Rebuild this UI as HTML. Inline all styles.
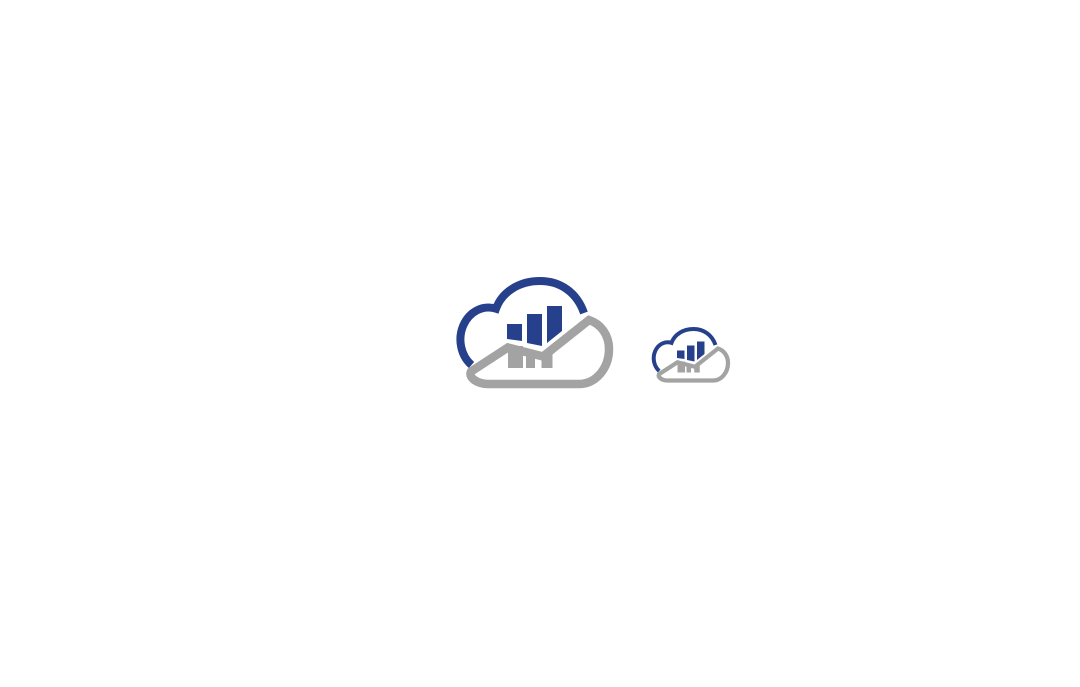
<!DOCTYPE html>
<html>
<head>
<meta charset="utf-8">
<style>
  html, body { margin: 0; padding: 0; background: #ffffff; }
  body { width: 1080px; height: 687px; overflow: hidden; }
  svg { display: block; }
</style>
</head>
<body>
<svg width="1080" height="687" viewBox="0 0 1080 687" xmlns="http://www.w3.org/2000/svg">
  <defs>
    <g id="logo">
      <!-- blue cloud arc -->
      <path d="M 471.5,365 A 28,32 0 0 1 496,308.7 C 502,292 519,281 540,281 C 561,281 577,293 584,313"
            fill="none" stroke="#27408b" stroke-width="8" stroke-linecap="butt" stroke-linejoin="miter"/>
      <!-- blue bars -->
      <polygon points="507,324 522,324 522,341 507,339" fill="#27408b"/>
      <polygon points="527,314 542,314 542,346 527,343" fill="#27408b"/>
      <polygon points="547,306 562,306 562,331 547,343" fill="#27408b"/>
      <!-- gray cloud outline with roof -->
      <path d="M 543,356.5 L 589,320 C 601,324 609,335 609,349 C 609,368 596,384 579,384 L 488,384 C 478,384 468,378 471,371.5 L 508,347.5 Z"
            fill="none" stroke="#a3a3a3" stroke-width="8.5" stroke-linejoin="miter" stroke-miterlimit="6"/>
      <!-- gray legs -->
      <rect x="508" y="346" width="15" height="22" fill="#a3a3a3"/>
      <rect x="526" y="350" width="9" height="18" fill="#a3a3a3"/>
      <rect x="541.5" y="353" width="11" height="15" fill="#a3a3a3"/>
    </g>
  </defs>
  <use href="#logo"/>
  <g transform="translate(423.5,188.5) scale(0.5)">
    <use href="#logo"/>
  </g>
</svg>
</body>
</html>
